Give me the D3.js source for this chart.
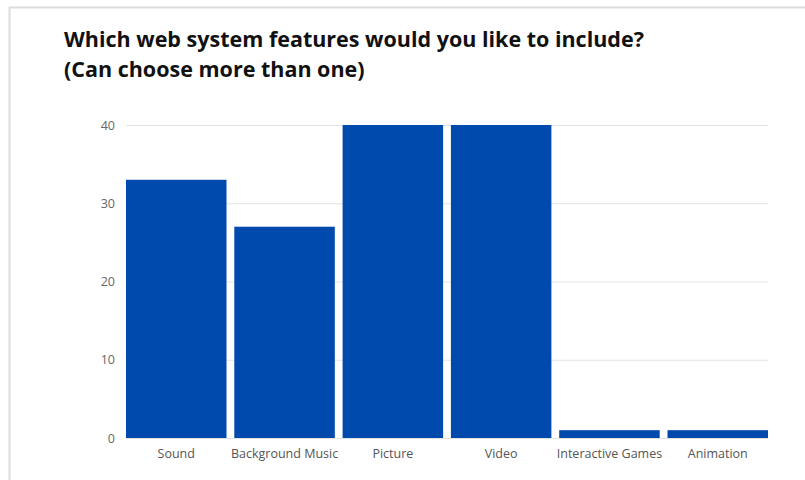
<!DOCTYPE html>
<html>
<head>
<meta charset="utf-8">
<script src="https://cdn.jsdelivr.net/npm/d3@7"></script>
<style>
  html, body { margin: 0; padding: 0; background: #fff; }
  svg { display: block; }
</style>
</head>
<body>
<svg id="chart" width="805" height="480"></svg>
<script>
// Survey responses: features people want in the web system
const categories = ["Sound", "Background Music", "Picture", "Video", "Interactive Games", "Animation"];
const counts = [33, 27, 40, 40, 1, 1];
const yTicks = [0, 10, 20, 30, 40];
const titleLines = ["Which web system features would you like to include?", "(Can choose more than one)"];

const svg = d3.select("#chart");

// Card frame
svg.append("path")
  .attr("d", "M9.5,480 V7.5 H805")
  .attr("fill", "none")
  .attr("stroke", "#dcdcdc")
  .attr("stroke-width", 2);

// Title
const title = svg.append("text")
  .attr("x", 64)
  .attr("y", 47)
  .attr("font-family", "'Open Sans', sans-serif")
  .attr("font-weight", 700)
  .attr("font-size", 21.5)
  .attr("fill", "#111");
title.selectAll("tspan")
  .data(titleLines)
  .join("tspan")
  .attr("x", 64)
  .attr("dy", (d, i) => i === 0 ? 0 : 30)
  .text(d => d);

const x = d3.scaleBand()
  .domain(categories)
  .range([126, 768])
  .paddingInner(0.072)
  .paddingOuter(0);

const y = d3.scaleLinear()
  .domain([0, 40])
  .range([438, 125]);

// Horizontal gridlines with value labels
const yAxis = svg.append("g")
  .attr("transform", "translate(126,0)")
  .call(d3.axisLeft(y).tickValues(yTicks).tickSize(-642).tickPadding(11).tickFormat(d3.format("d")));
yAxis.select(".domain").remove();
yAxis.selectAll(".tick line").attr("stroke", "#e3e3e3").attr("stroke-width", 1);
yAxis.selectAll(".tick text")
  .attr("font-family", "'Open Sans', sans-serif")
  .attr("font-size", 12.5)
  .attr("fill", "#666");

// Bars
svg.append("g")
  .selectAll("rect")
  .data(categories.map((c, i) => ({ c, v: counts[i] })))
  .join("rect")
  .attr("x", d => x(d.c))
  .attr("y", d => y(d.v))
  .attr("width", x.bandwidth())
  .attr("height", d => y(0) - y(d.v))
  .attr("fill", "#004aad");

// Category labels
const xAxis = svg.append("g")
  .attr("transform", "translate(0,438)")
  .call(d3.axisBottom(x).tickSize(0).tickPadding(11));
xAxis.select(".domain").remove();
xAxis.selectAll(".tick text")
  .attr("font-family", "'Open Sans', sans-serif")
  .attr("font-size", 12.5)
  .attr("fill", "#555");
</script>
</body>
</html>
